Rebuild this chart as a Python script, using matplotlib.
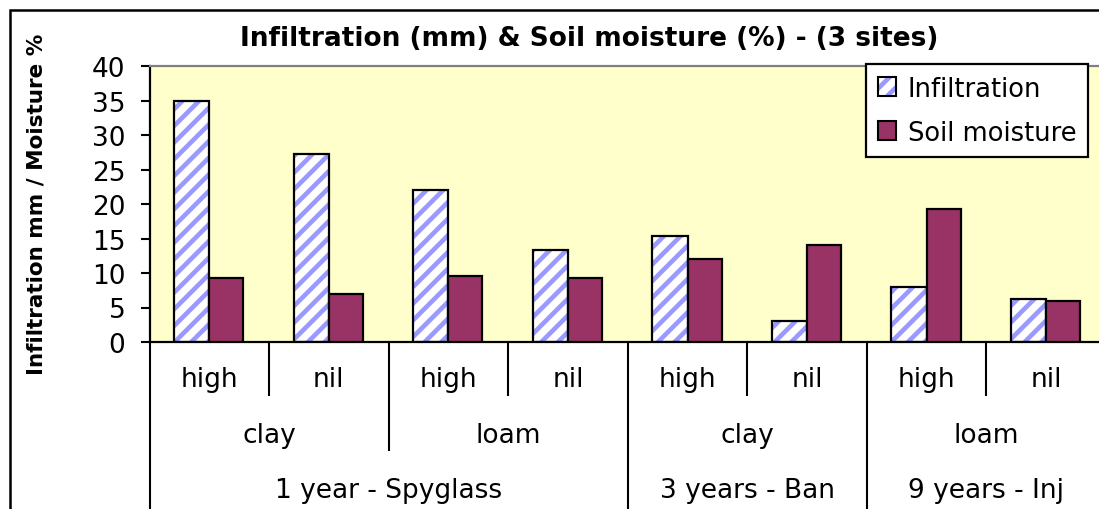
import matplotlib
matplotlib.use("Agg")
import matplotlib.pyplot as plt
import matplotlib.transforms as mtransforms
from matplotlib.patches import Patch, Rectangle
from matplotlib.legend_handler import HandlerTuple

# ---- data ----
treatments = ["high", "nil", "high", "nil", "high", "nil", "high", "nil"]
soils = ["clay", "loam", "clay", "loam"]
soil_spans = [2, 2, 2, 2]
sites = ["1 year - Spyglass", "3 years - Ban", "9 years - Inj"]
site_spans = [4, 2, 2]
infiltration = [35.0, 27.3, 22.0, 13.3, 15.3, 3.0, 8.0, 6.3]
moisture = [9.3, 6.9, 9.6, 9.3, 12.0, 14.0, 19.3, 6.0]
yticks = [0, 5, 10, 15, 20, 25, 30, 35, 40]
title = "Infiltration (mm) & Soil moisture (%) - (3 sites)"
ylabel = "Infiltration mm / Moisture %"
series_names = ["Infiltration", "Soil moisture"]

# ---- style ----
plt.rcParams["font.family"] = ["DejaVu Sans"]
plt.rcParams["hatch.linewidth"] = 3.3
W, H = 1099, 510
fig = plt.figure(figsize=(W / 100, H / 100), dpi=100)
fig.patch.set_facecolor("white")

ax_l, ax_r, ax_t, ax_b = 149.5, 1106.0, 67.0, 343.0
ax = fig.add_axes([ax_l / W, 1 - ax_b / H, (ax_r - ax_l) / W, (ax_b - ax_t) / H])
ax.set_facecolor("#FFFFCC")

hatch_col = "#9999FF"
moist_col = "#993366"
x = list(range(len(treatments)))
w_inf, w_moi = 0.295, 0.285

# infiltration bars: hatched fill + black outline
ax.bar([i - w_inf for i in x], infiltration, width=w_inf, align="edge",
       facecolor="white", edgecolor=hatch_col, hatch="//", linewidth=0, zorder=2)
ax.bar([i - w_inf for i in x], infiltration, width=w_inf, align="edge",
       fill=False, edgecolor="black", linewidth=1.6, zorder=3)
ax.bar(x, moisture, width=w_moi, align="edge",
       facecolor=moist_col, edgecolor="black", linewidth=1.6, zorder=3)

ax.set_xlim(-0.5, len(treatments) - 0.5)
ax.set_ylim(0, 40)
ax.set_yticks(yticks)
ax.tick_params(axis="y", direction="out", length=6.5, width=1.5, pad=11,
               labelsize=19, colors="black")
ax.set_xticks([])

for side in ["left", "bottom"]:
    ax.spines[side].set_color("black")
    ax.spines[side].set_linewidth(1.6)
ax.spines["top"].set_color("#808080")
ax.spines["top"].set_linewidth(1.6)
ax.spines["right"].set_visible(False)

ax.set_ylabel(ylabel, fontsize=15.5, fontweight="bold", va="center", ha="center")
ax.yaxis.set_label_coords((37 - ax_l) / (ax_r - ax_l), (ax_b - 204) / (ax_b - ax_t))

ax.set_title(title, fontsize=19, fontweight="bold", pad=0,
             x=(589 - ax_l) / (ax_r - ax_l), y=(ax_b - 39) / (ax_b - ax_t), va="center")

# ---- multi-level category axis ----
trans = mtransforms.blended_transform_factory(ax.transData, fig.transFigure)

def fy(py):
    return 1 - py / H

lab_fs = 19
for i, t in enumerate(treatments):
    ax.text(i, fy(387), t, transform=trans, ha="center", va="baseline", fontsize=lab_fs)

# level 1 separators (between treatments within soil)
start = 0
for span in soil_spans:
    for k in range(1, span):
        xs = start + k - 0.5
        ax.plot([xs, xs], [fy(ax_b), fy(397)], transform=trans, color="black",
                lw=1.5, clip_on=False, solid_capstyle="butt")
    start += span

# soil labels
start = 0
soil_bounds = []
for s, span in zip(soils, soil_spans):
    ax.text(start + span / 2 - 0.5, fy(443), s, transform=trans, ha="center",
            va="baseline", fontsize=lab_fs)
    soil_bounds.append(start - 0.5)
    start += span
soil_bounds.append(start - 0.5)

# site labels and boundaries
start = 0
site_bounds = [-0.5]
for s, span in zip(sites, site_spans):
    ax.text(start + span / 2 - 0.5, fy(498), s, transform=trans, ha="center",
            va="baseline", fontsize=lab_fs)
    start += span
    site_bounds.append(start - 0.5)

for xs in soil_bounds:
    if xs not in site_bounds:
        ax.plot([xs, xs], [fy(ax_b), fy(452)], transform=trans, color="black",
                lw=1.5, clip_on=False, solid_capstyle="butt")
for xs in site_bounds:
    ax.plot([xs, xs], [fy(ax_b), fy(H + 20)], transform=trans, color="black",
            lw=1.5, clip_on=False, solid_capstyle="butt")

# ---- legend ----
h_inf = (Patch(facecolor="white", edgecolor=hatch_col, hatch="//", linewidth=0),
         Patch(facecolor="none", edgecolor="black", linewidth=1.5))
h_moi = Patch(facecolor=moist_col, edgecolor="black", linewidth=1.5)
leg = ax.legend([h_inf, h_moi], series_names,
                handler_map={tuple: HandlerTuple(ndivide=1, pad=0)},
                loc="upper left",
                bbox_to_anchor=((866 - ax_l) / (ax_r - ax_l), (ax_b - 65) / (ax_b - ax_t)),
                fontsize=18.5, frameon=True, fancybox=False, shadow=False,
                borderpad=0.45, labelspacing=0.7, handlelength=0.72,
                handleheight=0.72, handletextpad=0.45, borderaxespad=0)
leg.get_frame().set_edgecolor("black")
leg.get_frame().set_linewidth(1.6)
leg.get_frame().set_facecolor("white")
leg.get_frame().set_alpha(1)
leg.set_zorder(5)

# ---- outer chart border ----
fig.patches.append(Rectangle((9.5 / W, -0.2), 1.5, 1.2 - 10.5 / H,
                             transform=fig.transFigure, fill=False,
                             edgecolor="black", linewidth=1.8))

fig.savefig("out.png", dpi=100)
